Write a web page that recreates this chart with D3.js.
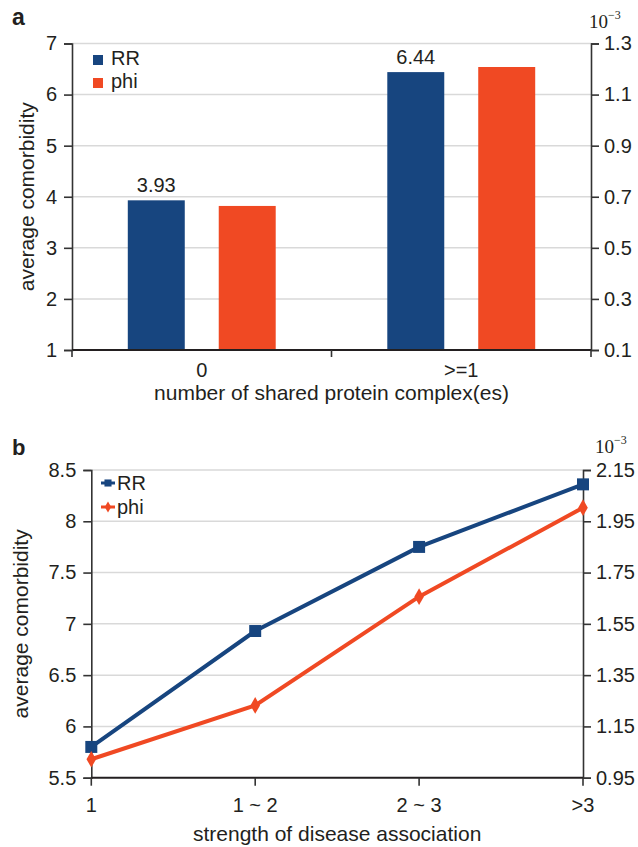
<!DOCTYPE html>
<html>
<head>
<meta charset="utf-8">
<script src="https://cdnjs.cloudflare.com/ajax/libs/d3/7.8.5/d3.min.js"></script>
<style>
  body { margin: 0; background: #fff; }
  text { font-family: "Liberation Sans", Arial, sans-serif; fill: #231f20; }
  .sci { font-family: "Liberation Serif", "Times New Roman", serif; }
</style>
</head>
<body>
<svg id="chart" width="638" height="847"></svg>
<script>
// panel a data
var groupsA = ["0", ">=1"];
var rrA = [3.93, 6.44];          // left axis
var phiA = [0.664, 1.208];       // right axis (x10^-3)
var leftTicksA = [1, 2, 3, 4, 5, 6, 7];
var rightTicksA = [0.1, 0.3, 0.5, 0.7, 0.9, 1.1, 1.3];

// panel b data
var groupsB = ["1", "1 ~ 2", "2 ~ 3", ">3"];
var rrB = [5.80, 6.93, 7.75, 8.36];
var phiB = [1.022, 1.232, 1.656, 2.003];
var leftTicksB = [5.5, 6, 6.5, 7, 7.5, 8, 8.5];
var rightTicksB = [0.95, 1.15, 1.35, 1.55, 1.75, 1.95, 2.15];

var blue = "#17457f";
var orange = "#f04923";
var gridColor = "#d9d9d9";
var axisColor = "#333";

var svg = d3.select("#chart");

function sciLabel(g, x, y) {
  var t = g.append("text").attr("class", "sci").attr("x", x).attr("y", y)
    .style("font-size", "19px");
  t.append("tspan").text("10");
  t.append("tspan").style("font-size", "12px").attr("dy", -9).text("\u22123");
}

function drawFrame(g, x0, x1, yL, yR, leftTicks, rightTicks, leftFmt, rightFmt) {
  // gridlines
  g.append("g").selectAll("line")
    .data(leftTicks.slice(1))
    .enter().append("line")
    .attr("x1", x0).attr("x2", x1)
    .attr("y1", d => yL(d)).attr("y2", d => yL(d))
    .attr("stroke", gridColor).attr("stroke-width", 1.5);

  var left = g.append("g").attr("transform", `translate(${x0},0)`)
    .call(d3.axisLeft(yL).tickValues(leftTicks).tickFormat(leftFmt).tickSize(8).tickPadding(7));
  var right = g.append("g").attr("transform", `translate(${x1},0)`)
    .call(d3.axisRight(yR).tickValues(rightTicks).tickFormat(rightFmt).tickSize(8).tickPadding(5));
  [left, right].forEach(a => {
    a.select(".domain").attr("stroke", axisColor).attr("stroke-width", 1.6);
    a.selectAll(".tick line").attr("stroke", axisColor).attr("stroke-width", 1.6);
    a.selectAll(".tick text").attr("font-size", 20)
      .attr("font-family", "Liberation Sans, Arial, sans-serif").attr("fill", "#231f20");
  });
}

// ---------- panel a ----------
var gA = svg.append("g");
var ax0 = 72, ax1 = 591, aTop = 43.5, aBot = 350;
var yLA = d3.scaleLinear().domain([1, 7]).range([aBot, aTop]);
var yRA = d3.scaleLinear().domain([0.1, 1.3]).range([aBot, aTop]);
var xA = d3.scaleBand().domain(groupsA).range([ax0, ax1]);
var subA = d3.scaleBand().domain(["RR", "phi"])
  .range([xA.bandwidth() * 0.215, xA.bandwidth() * 0.785]).paddingInner(0.3736);

gA.append("text").attr("x", 12).attr("y", 25).attr("font-size", 23)
  .attr("font-weight", "bold").text("a");

drawFrame(gA, ax0, ax1, yLA, yRA, leftTicksA, rightTicksA, d3.format("d"), d3.format(".1f"));

// bars
gA.append("g").selectAll("rect")
  .data(groupsA.map((c, i) => ({c: c, v: rrA[i]})))
  .enter().append("rect")
  .attr("x", d => xA(d.c) + subA("RR"))
  .attr("y", d => yLA(d.v))
  .attr("width", subA.bandwidth())
  .attr("height", d => aBot - yLA(d.v))
  .attr("fill", blue);
gA.append("g").selectAll("rect")
  .data(groupsA.map((c, i) => ({c: c, v: phiA[i]})))
  .enter().append("rect")
  .attr("x", d => xA(d.c) + subA("phi"))
  .attr("y", d => yRA(d.v))
  .attr("width", subA.bandwidth())
  .attr("height", d => aBot - yRA(d.v))
  .attr("fill", orange);
gA.append("g").selectAll("text")
  .data(groupsA.map((c, i) => ({c: c, v: rrA[i]})))
  .enter().append("text")
  .attr("x", d => xA(d.c) + subA("RR") + subA.bandwidth() / 2)
  .attr("y", d => yLA(d.v) - 8)
  .attr("text-anchor", "middle").attr("font-size", 20)
  .text(d => d3.format(".2f")(d.v));

// bottom axis
var botA = gA.append("g").attr("transform", `translate(0,${aBot})`);
botA.append("line").attr("x1", ax0).attr("x2", ax1).attr("stroke", "#231f20").attr("stroke-width", 2);
botA.selectAll(".bt").data([ax0, xA(">=1"), ax1]).enter().append("line")
  .attr("x1", d => d).attr("x2", d => d).attr("y1", 0).attr("y2", 7)
  .attr("stroke", axisColor).attr("stroke-width", 1.6);
botA.selectAll(".bl").data(groupsA).enter().append("text")
  .attr("x", d => xA(d) + xA.bandwidth() / 2).attr("y", 27)
  .attr("text-anchor", "middle").attr("font-size", 20).text(d => d);
gA.append("text").attr("x", (ax0 + ax1) / 2).attr("y", 400)
  .attr("text-anchor", "middle").attr("font-size", 21)
  .text("number of shared protein complex(es)");
gA.append("text").attr("transform", `translate(34,${(aTop + aBot) / 2}) rotate(-90)`)
  .attr("text-anchor", "middle").attr("font-size", 21).text("average comorbidity");
sciLabel(gA, 589, 28);

// legend a
var legA = gA.append("g");
[["RR", blue], ["phi", orange]].forEach((d, i) => {
  legA.append("rect").attr("x", 93).attr("y", 55 + i * 23).attr("width", 10).attr("height", 10).attr("fill", d[1]);
  legA.append("text").attr("x", 111).attr("y", 65 + i * 23).attr("font-size", 20).text(d[0]);
});

// ---------- panel b ----------
var gB = svg.append("g");
var bx0 = 91.3, bx1 = 583, bTop = 470, bBot = 777.7;
var yLB = d3.scaleLinear().domain([5.5, 8.5]).range([bBot, bTop]);
var yRB = d3.scaleLinear().domain([0.95, 2.15]).range([bBot, bTop]);
var xB = d3.scalePoint().domain(groupsB).range([bx0, bx1]);

gB.append("text").attr("x", 12).attr("y", 455).attr("font-size", 22)
  .attr("font-weight", "bold").text("b");

drawFrame(gB, bx0, bx1, yLB, yRB, leftTicksB, rightTicksB, d3.format("~g"), d3.format(".2f"));

var botB = gB.append("g").attr("transform", `translate(0,${bBot})`);
botB.append("line").attr("x1", bx0).attr("x2", bx1).attr("stroke", "#231f20").attr("stroke-width", 2);
botB.selectAll(".bt").data(groupsB).enter().append("line")
  .attr("x1", d => xB(d)).attr("x2", d => xB(d)).attr("y1", 0).attr("y2", 8)
  .attr("stroke", axisColor).attr("stroke-width", 1.6);
botB.selectAll(".bl").data(groupsB).enter().append("text")
  .attr("x", d => xB(d)).attr("y", 34)
  .attr("text-anchor", "middle").attr("font-size", 20).text(d => d);
gB.append("text").attr("x", (bx0 + bx1) / 2).attr("y", 841)
  .attr("text-anchor", "middle").attr("font-size", 21)
  .text("strength of disease association");
gB.append("text").attr("transform", `translate(28,${(bTop + bBot) / 2}) rotate(-90)`)
  .attr("text-anchor", "middle").attr("font-size", 21).text("average comorbidity");
sciLabel(gB, 595, 453);

var line = d3.line();
var rrPts = groupsB.map((c, i) => [xB(c), yLB(rrB[i])]);
var phiPts = groupsB.map((c, i) => [xB(c), yRB(phiB[i])]);
gB.append("path").attr("d", line(rrPts)).attr("fill", "none")
  .attr("stroke", blue).attr("stroke-width", 4);
gB.append("path").attr("d", line(phiPts)).attr("fill", "none")
  .attr("stroke", orange).attr("stroke-width", 4);
var sq = d3.symbol().type(d3.symbolSquare).size(144);
var dm = d3.symbol().type(d3.symbolDiamond).size(80);
gB.append("g").selectAll("path").data(rrPts).enter().append("path")
  .attr("d", sq).attr("transform", d => `translate(${d[0]},${d[1]})`).attr("fill", blue);
gB.append("g").selectAll("path").data(phiPts).enter().append("path")
  .attr("d", dm).attr("transform", d => `translate(${d[0]},${d[1]})`).attr("fill", orange);

// legend b
var legB = gB.append("g");
[["RR", blue, d3.symbolSquare, 50], ["phi", orange, d3.symbolDiamond, 36]].forEach((d, i) => {
  var y = 483 + i * 24;
  legB.append("line").attr("x1", 101).attr("x2", 115).attr("y1", y).attr("y2", y)
    .attr("stroke", d[1]).attr("stroke-width", 3);
  legB.append("path").attr("d", d3.symbol().type(d[2]).size(d[3]))
    .attr("transform", `translate(108,${y})`).attr("fill", d[1]);
  legB.append("text").attr("x", 117).attr("y", y + 7).attr("font-size", 20).text(d[0]);
});
</script>
</body>
</html>
